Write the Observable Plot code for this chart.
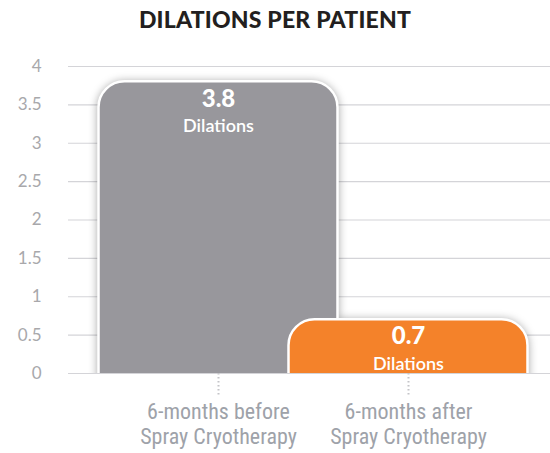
<!DOCTYPE html>
<html>
<head>
<meta charset="utf-8">
<script src="https://cdn.jsdelivr.net/npm/d3@7"></script>
<script src="https://cdn.jsdelivr.net/npm/@observablehq/plot@0.6"></script>
<style>
  body { margin: 0; background: #fff; }
  #title { height: 40px; line-height: 38px; text-align: center; font-family: Lato, "Noto Sans", sans-serif; font-weight: 900; font-size: 23px; color: #231f20; letter-spacing: 0.2px; }
</style>
</head>
<body>
<div id="title">DILATIONS PER PATIENT</div>
<div id="chart"></div>
<script>
const categories = ["6-months before\nSpray Cryotherapy", "6-months after\nSpray Cryotherapy"];
const values = [3.8, 0.7];
const barColors = ["#98979c", "#f4822a"];
const valueLabels = ["3.8", "0.7"];
const unitLabel = "Dilations";
const yTicks = [0, 0.5, 1, 1.5, 2, 2.5, 3, 3.5, 4];

const data = categories.map((c, i) => ({cat: c, value: values[i], color: barColors[i], label: valueLabels[i]}));

const chart = Plot.plot({
  width: 550,
  height: 413,
  marginTop: 26,
  marginBottom: 80,
  marginLeft: 68,
  marginRight: 0,
  x: {domain: categories, paddingInner: 0, paddingOuter: 0.2618, align: 0.535, label: null},
  y: {domain: [0, 4], label: null},
  style: {fontFamily: "Lato, 'Noto Sans', sans-serif", overflow: "visible"},
  marks: [
    Plot.gridY(yTicks, {stroke: "#d4d4d8", strokeOpacity: 1, strokeWidth: 1.2}),
    Plot.axisY(yTicks, {tickSize: 0, tickPadding: 27, fontSize: 17, fill: "#a8a8ab", tickFormat: d => String(d), label: null}),
    Plot.axisX({tickSize: 22, tickPadding: 6, stroke: "#c4c4c8", strokeWidth: 2, strokeDasharray: "1.5,2.5",
      fontSize: 22, fill: "#9ea2a9", lineHeight: 1.14, label: null,
      fontFamily: "'Liberation Sans Narrow', 'Roboto Condensed', Roboto, sans-serif"}),
    Plot.barY(data, {x: "cat", y1: () => -1, y2: "value", fill: "color",
      insetLeft: -24.5, insetRight: -24.5, rx: 26, stroke: "white", strokeWidth: 2.5,
      clip: true, imageFilter: "drop-shadow(0px 1px 4px rgba(0,0,0,0.35))"}),
    Plot.text(data, {x: "cat", y: "value", text: "label", dy: 17, fill: "white", fontSize: 24, fontWeight: 900}),
    Plot.text(data, {x: "cat", y: "value", text: () => unitLabel, dy: 44, fill: "white", fontSize: 18, fontWeight: 600})
  ]
});
document.getElementById("chart").appendChild(chart);
</script>
</body>
</html>
